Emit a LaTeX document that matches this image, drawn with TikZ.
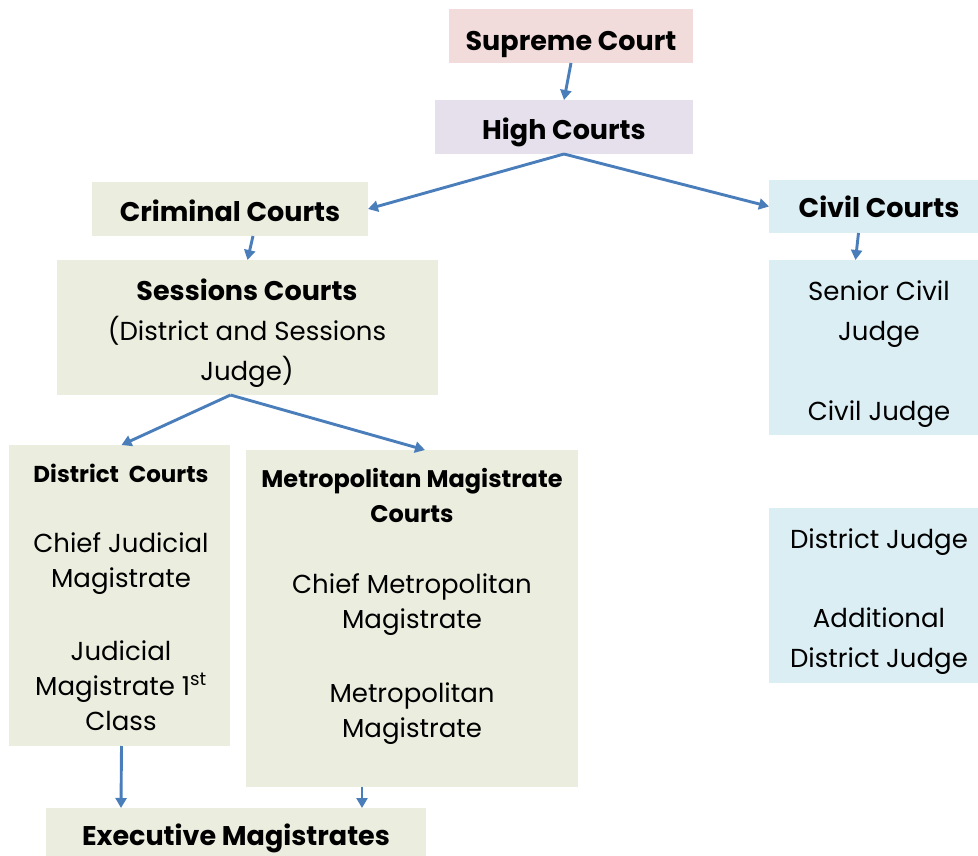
\documentclass[tikz,border=0pt]{standalone}
\usepackage{fontspec}
\setmainfont{Poppins}
\usetikzlibrary{arrows.meta}
\definecolor{supfill}{HTML}{F2DCDB}
\definecolor{highfill}{HTML}{E5E0EC}
\definecolor{crimfill}{HTML}{EBEEDF}
\definecolor{civfill}{HTML}{DBEEF3}
\definecolor{arrowblue}{HTML}{4A7EBB}
\tikzset{
  box/.style={draw=none, inner sep=0pt, outer sep=0pt, rectangle},
  txt/.style={anchor=base, inner sep=0pt, text=black},
  hd/.style={txt, font=\fontsize{27}{30}\selectfont\bfseries},
  sub/.style={txt, font=\fontsize{23}{26}\selectfont\bfseries},
  body/.style={txt, font=\fontsize{26}{30}\selectfont},
  link/.style={draw=arrowblue, line width=2.9pt, -{Triangle[length=10pt,width=11pt]}}
}
\newcommand{\boxat}[6]{% name, colour, x1, y1, x2, y2
  \node[box, fill=#2, minimum width={#5pt-#3pt}, minimum height={#6pt-#4pt}] (#1) at ({(#3+#5)/2},{(#4+#6)/2}) {};}
\begin{document}
\begin{tikzpicture}[x=1pt, y=-1pt]
\useasboundingbox (0,0) rectangle (978,856);

% boxes
\boxat{sup}{supfill}{449}{9}{693}{63}
\boxat{high}{highfill}{435}{100}{693}{154}
\boxat{crim}{crimfill}{92}{182}{368}{236}
\boxat{civ}{civfill}{769}{180}{978}{233}
\boxat{sess}{crimfill}{57}{260}{438}{395}
\boxat{senior}{civfill}{769}{260}{978}{435}
\boxat{distj}{civfill}{769}{508}{978}{683}
\boxat{dist}{crimfill}{9}{445}{230}{746}
\boxat{metro}{crimfill}{246}{450}{578}{787}
\boxat{exec}{crimfill}{46}{808}{426}{856}

% texts
\node[hd] (supT) at (571,51) {Supreme Court};
\node[hd] (highT) at (564,140) {High Courts};
\node[hd] (crimT) at (230,222) {Criminal Courts};
\node[hd] (civT) at (879,218) {Civil Courts};

\node[hd] (sessT1) at (247,300) {Sessions Courts};
\node[body] (sessT2) at (247,340) {(District and Sessions};
\node[body] (sessT3) at (247,380) {Judge)};

\node[body] (senT1) at (879,300) {Senior Civil};
\node[body] (senT2) at (879,340) {Judge};
\node[body] (senT3) at (879,420) {Civil Judge};

\node[body] (djT1) at (879,548) {District Judge};
\node[body] (djT2) at (879,627) {Additional};
\node[body] (djT3) at (879,667) {District Judge};

\node[sub] (distT1) at (121,482) {District\ \ Courts};
\node[body] (distT2) at (121,552) {Chief Judicial};
\node[body] (distT3) at (121,587) {Magistrate};
\node[body] (distT4) at (121,660) {Judicial};
\node[body] (distT5) at (121,695) {Magistrate 1\textsuperscript{st}};
\node[body] (distT6) at (121,730) {Class};

\node[sub, font=\fontsize{24}{27}\selectfont\bfseries] (metT1) at (412,487) {Metropolitan Magistrate};
\node[sub, font=\fontsize{24}{27}\selectfont\bfseries] (metT2) at (412,522) {Courts};
\node[body] (metT3) at (412,593) {Chief Metropolitan};
\node[body] (metT4) at (412,628) {Magistrate};
\node[body] (metT5) at (412,702) {Metropolitan};
\node[body] (metT6) at (412,737) {Magistrate};

\node[hd] (execT) at (236,845) {Executive Magistrates};

% connectors
\draw[link] (sup.south) -- (high.north);
\draw[link] (high.south) -- (crim.east);
\draw[link] (high.south) -- (civ.west);
\draw[link] ([xshift=23pt]crim.south) -- (sess.north);
\draw[link] ([xshift=-15pt]civ.south) -- ([xshift=-18pt]senior.north);
\draw[link] ([xshift=-17pt]sess.south) -- ([xshift=2pt]dist.north);
\draw[link] ([xshift=-17pt]sess.south) -- ([xshift=13pt]metro.north);
\draw[link] ([xshift=2pt]dist.south) -- ([xshift=-115pt]exec.north);
\draw[link] ([xshift=-50pt]metro.south) -- ([xshift=126pt]exec.north);
\end{tikzpicture}
\end{document}
